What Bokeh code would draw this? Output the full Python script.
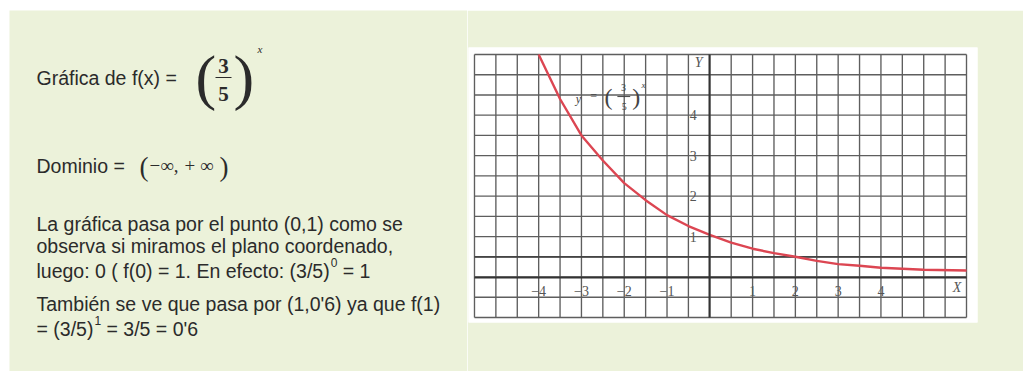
from bokeh.plotting import figure
from bokeh.models import Range1d, LinearAxis, FixedTicker, Spacer
from bokeh.layouts import row, column
from bokeh.core.properties import value
from bokeh.embed import file_html
from bokeh.resources import INLINE

# ---------------- data ----------------
curve_x = [-4, -3.5, -3, -2.5, -2, -1.5, -1, -0.5, 0, 0.5, 1, 1.5, 2, 2.5, 3, 3.5, 4, 5, 6]
curve_y = [5.5, 4.4, 3.5, 2.88, 2.32, 1.9, 1.53, 1.26, 1.04, 0.85, 0.70, 0.59, 0.50, 0.40,
           0.32, 0.28, 0.23, 0.18, 0.16]
x_ticks = [-4, -3, -2, -1, 1, 2, 3, 4]
x_tick_labels = ["\u22124", "\u22123", "\u22122", "\u22121", "1", "2", "3", "4"]
y_ticks = [1, 2, 3, 4]
y_tick_labels = ["1", "2", "3", "4"]

title_text = "Gr\u00e1fica de f(x) ="
domain_text = "Dominio ="
body_lines = [
    "La gr\u00e1fica pasa por el punto (0,1) como se",
    "observa si miramos el plano coordenado,",
    "luego: 0 ( f(0) = 1. En efecto: (3/5)",
    "Tambi\u00e9n se ve que pasa por (1,0'6) ya que f(1)",
    "= (3/5)",
]
sup_texts = ["0", "1"]
tail_texts = ["= 1", "= 3/5 = 0'6"]

# ---------------- styling ----------------
GREEN = "#ecf2da"
TXT = "#2b2b2b"
SANS = "Liberation Sans"
SERIF = "Liberation Serif"
FS = 19.5

X_LO, X_HI = -5.5, 6.0
Y_LO, Y_HI = -1.0, 5.5
STEP = 0.5
grid_x = [X_LO + STEP * i for i in range(int(round((X_HI - X_LO) / STEP)) + 1)]
grid_y = [Y_LO + STEP * i for i in range(int(round((Y_HI - Y_LO) / STEP)) + 1)]

# Arial / Liberation Sans advance widths (per 1000 em) for superscript placement
AW = {' ': 278, '(': 333, ')': 333, '/': 278, ':': 278, '=': 584, '.': 278, ',': 278,
      'E': 667, 'a': 556, 'c': 500, 'e': 556, 'f': 278, 'g': 556, 'l': 222, 'n': 556,
      'o': 556, 't': 278, 'u': 556}
for d in "0123456789":
    AW[d] = 556


def tw(s, size):
    return sum(AW.get(c, 556) for c in s) * size / 1000.0


def no_frame_align(fig):
    if "frame_align" in fig.properties():
        fig.frame_align = False


# ---------------- left text panel (page pixel coordinates) ----------------
t = figure(width=467, height=371, x_range=Range1d(9, 467), y_range=Range1d(371, 10),
           x_axis_type=None, y_axis_type=None, toolbar_location=None, output_backend="svg",
           min_border_left=9, min_border_top=10, min_border_right=0, min_border_bottom=0,
           background_fill_color=GREEN, border_fill_color="white", outline_line_color=None)
no_frame_align(t)

LEFT = 36
t.text(x=[LEFT, LEFT], y=[77, 165], text=[title_text, domain_text], text_font=value(SANS),
       text_font_size=f"{FS}px", text_color=TXT, text_baseline="alphabetic")

# fraction (3/5)^x
t.text(x=[195, 233], y=[76, 76], text=["(", ")"], text_font=value(SERIF),
       text_font_size="62px", text_color=TXT, text_baseline="alphabetic")
t.text(x=[223, 223], y=[65, 93], text=["3", "5"], text_font=value(SERIF),
       text_font_size="21px", text_font_style="bold", text_color=TXT,
       text_align="center", text_baseline="alphabetic")
t.segment(x0=[215], y0=[77], x1=[231], y1=[77], line_color=TXT, line_width=1)
t.text(x=[257], y=[48], text=["x"], text_font=value(SERIF), text_font_size="11px",
       text_font_style="italic", text_color=TXT, text_baseline="alphabetic")

# domain (-inf, +inf)
t.text(x=[139, 219], y=[166, 166], text=["(", ")"], text_font=value(SERIF),
       text_font_size="27px", text_color=TXT, text_baseline="alphabetic")
t.text(x=[149, 184], y=[165, 165], text=["\u2212\u221e,", "+ \u221e"], text_font=value(SERIF),
       text_font_size="19px", text_color=TXT, text_baseline="alphabetic")

# paragraph
baselines = [223, 245, 270, 303, 328]
t.text(x=[LEFT] * len(body_lines), y=baselines, text=body_lines, text_font=value(SANS),
       text_font_size=f"{FS}px", text_color=TXT, text_baseline="alphabetic")
sup_x = [LEFT + tw(body_lines[2], FS) + 1, LEFT + tw(body_lines[4], FS) + 1]
sup_y = [baselines[2] - 8, baselines[4] - 8]
t.text(x=sup_x, y=sup_y, text=sup_texts, text_font=value(SANS), text_font_size="12px",
       text_color=TXT, text_baseline="alphabetic")
tail_x = [sx + tw(s, 12) + tw(" ", FS) for sx, s in zip(sup_x, sup_texts)]
t.text(x=tail_x, y=[baselines[2], baselines[4]], text=tail_texts, text_font=value(SANS),
       text_font_size=f"{FS}px", text_color=TXT, text_baseline="alphabetic")

# ---------------- right chart ----------------
p = figure(width=556, height=361, x_range=Range1d(-5.64, 6.257), y_range=Range1d(-1.124, 5.673),
           x_axis_type=None, y_axis_type=None, toolbar_location=None, output_backend="svg",
           min_border_left=1, min_border_right=46, min_border_top=37, min_border_bottom=49,
           background_fill_color="white", border_fill_color=GREEN, outline_line_color=None)
no_frame_align(p)

GRID_C = "#5e5e5e"
p.segment(x0=grid_x, y0=[Y_LO] * len(grid_x), x1=grid_x, y1=[Y_HI] * len(grid_x),
          line_color=GRID_C, line_width=1.35)
p.segment(x0=[X_LO] * len(grid_y), y0=grid_y, x1=[X_HI] * len(grid_y), y1=grid_y,
          line_color=GRID_C, line_width=1.35)
p.segment(x0=[X_LO], y0=[0.5], x1=[X_HI], y1=[0.5], line_color="#444444", line_width=1.8)

p.line(curve_x, curve_y, line_color="#dc4652", line_width=2.4)

xaxis = LinearAxis(fixed_location=0, bounds=(X_LO, X_HI), ticker=FixedTicker(ticks=x_ticks),
                   major_label_overrides=dict(zip(x_ticks, x_tick_labels)),
                   axis_line_width=2, axis_line_color="#333333",
                   major_tick_line_color=None, minor_tick_line_color=None,
                   major_label_text_font=SERIF, major_label_text_font_size="14px",
                   major_label_text_color="#555555", major_label_standoff=3)
p.add_layout(xaxis, "below")
yaxis = LinearAxis(fixed_location=0, bounds=(Y_LO, Y_HI), ticker=FixedTicker(ticks=y_ticks),
                   major_label_overrides=dict(zip(y_ticks, y_tick_labels)),
                   axis_line_width=2, axis_line_color="#333333",
                   major_tick_line_color=None, minor_tick_line_color=None,
                   major_label_text_font=SERIF, major_label_text_font_size="14px",
                   major_label_text_color="#555555", major_label_standoff=7)
p.add_layout(yaxis, "left")

# axis names
p.text(x=[5.78, -0.26], y=[-0.27, 5.29], text=["X", "Y"], text_font=value(SERIF),
       text_font_size="14px", text_font_style="italic", text_color="#555555",
       text_align="center", text_baseline="middle")

# formula label  y = (3/5)^x
p.text(x=[-3.07, -2.72], y=[4.40, 4.48], text=["y", "="], text_font=value(SERIF),
       text_font_size="12px", text_font_style="italic", text_color="#444444",
       text_align="center", text_baseline="middle")
p.text(x=[-2.37, -1.72], y=[4.45, 4.45], text=["(", ")"], text_font=value(SERIF),
       text_font_size="24px", text_color="#444444", text_align="center", text_baseline="middle")
p.text(x=[-2.02, -2.0], y=[4.68, 4.22], text=["3", "5"], text_font=value(SERIF),
       text_font_size="10px", text_color="#444444", text_align="center", text_baseline="middle")
p.segment(x0=[-2.16], y0=[4.46], x1=[-1.86], y1=[4.46], line_color="#444444", line_width=1)
p.text(x=[-1.55], y=[4.74], text=["x"], text_font=value(SERIF), text_font_size="9px",
       text_font_style="italic", text_color="#444444", text_align="center", text_baseline="middle")

right = column(Spacer(width=556, height=10), p, spacing=0)
layout = row(t, right, spacing=0)
open("out.html", "w").write(file_html(layout, INLINE))
